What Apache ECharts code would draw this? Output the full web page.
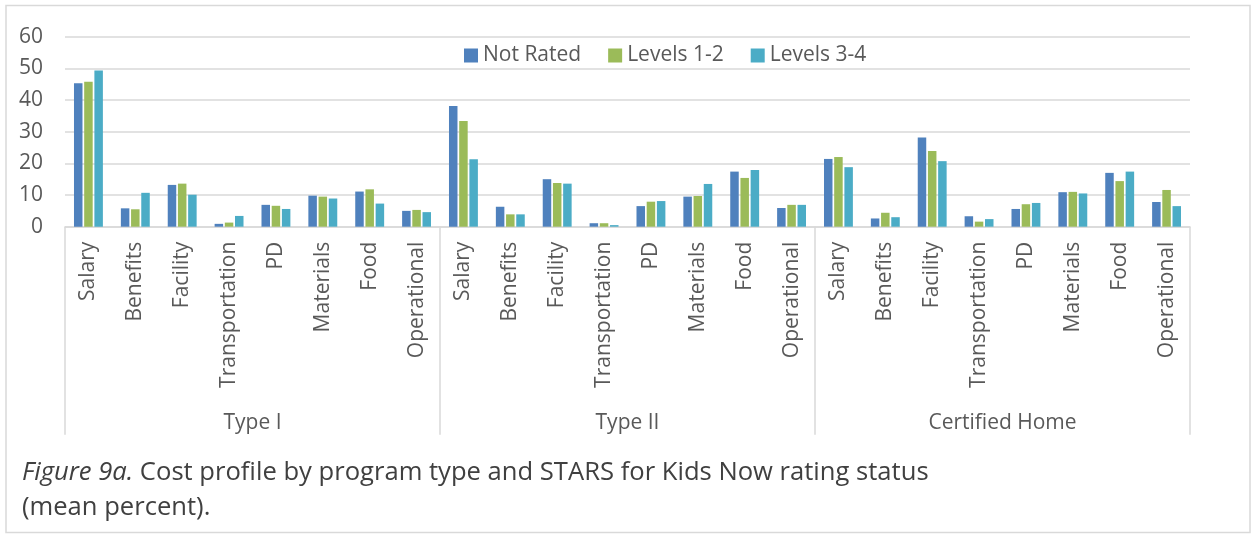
<!DOCTYPE html>
<html>
<head>
<meta charset="utf-8">
<script src="https://cdn.jsdelivr.net/npm/echarts@6/dist/echarts.min.js"></script>
<style>
  html, body { margin: 0; padding: 0; background: #fff; }
  #chart { width: 1252px; height: 534px; }
</style>
</head>
<body>
<div id="chart"></div>
<script>
// cost categories, repeated once per program type
const costItems = ["Salary", "Benefits", "Facility", "Transportation", "PD", "Materials", "Food", "Operational"];
const programTypes = ["Type I", "Type II", "Certified Home"];
const yTicks = [0, 10, 20, 30, 40, 50, 60];

// mean percent (Type I, Type II, Certified Home)
const notRated = [45.3, 5.8, 13.2, 0.9, 6.9, 9.8, 11.1, 5.0,
                  38.1, 6.3, 15.0, 1.1, 6.5, 9.5, 17.4, 5.9,
                  21.4, 2.6, 28.2, 3.3, 5.6, 10.9, 17.0, 7.8];
const levels12 = [45.8, 5.5, 13.6, 1.3, 6.6, 9.5, 11.8, 5.3,
                  33.4, 3.9, 13.8, 1.1, 7.9, 9.7, 15.4, 6.9,
                  22.0, 4.4, 23.9, 1.6, 7.1, 11.0, 14.4, 11.6];
const levels34 = [49.3, 10.7, 10.1, 3.4, 5.6, 8.9, 7.3, 4.6,
                  21.3, 3.9, 13.6, 0.5, 8.1, 13.5, 17.9, 6.9,
                  18.8, 3.0, 20.7, 2.4, 7.5, 10.5, 17.4, 6.5];

let categories = [];
programTypes.forEach(function () {
  costItems.forEach(function (c) { categories.push(c); });
});

let myChart = echarts.init(document.getElementById("chart"));
const font = "'Open Sans', 'DejaVu Sans', sans-serif";
const grey = "#595959";

let option = {
  animation: false,
  textStyle: { fontFamily: font },
  color: ["#4f81bd", "#9bbb59", "#4bacc6"],
  title: {
    left: 17,
    top: 450,
    text: "{i|Figure 9a.} Cost profile by program type and STARS for Kids Now rating status\n(mean percent).",
    textStyle: {
      fontFamily: font,
      fontSize: 25.6,
      fontWeight: "normal",
      color: "#404040",
      lineHeight: 35,
      rich: {
        i: { fontFamily: font, fontSize: 25.6, fontStyle: "italic", color: "#404040", lineHeight: 35 }
      }
    }
  },
  legend: {
    top: 40,
    left: 459,
    itemWidth: 14,
    itemHeight: 14,
    itemGap: 27,
    icon: "rect",
    textStyle: { fontFamily: font, fontSize: 21, color: grey },
    data: ["Not Rated", "Levels 1-2", "Levels 3-4"]
  },
  grid: { left: 65, right: 62, top: 36.7, bottom: 307.3 },
  xAxis: [
    {
      type: "category",
      data: categories,
      axisLine: { lineStyle: { color: "#d9d9d9", width: 1.5 } },
      axisTick: { show: false },
      axisLabel: {
        interval: 0,
        rotate: 90,
        margin: 15,
        fontFamily: font,
        fontSize: 21,
        color: grey
      }
    },
    {
      type: "category",
      data: programTypes,
      position: "bottom",
      axisLine: { show: false },
      axisTick: { show: true, length: 208, lineStyle: { color: "#d9d9d9", width: 1.5 } },
      axisLabel: { margin: 186, fontFamily: font, fontSize: 21, color: grey }
    }
  ],
  yAxis: {
    type: "value",
    min: yTicks[0],
    max: yTicks[yTicks.length - 1],
    interval: 10,
    axisLine: { show: false },
    axisTick: { show: false },
    axisLabel: { margin: 22, fontFamily: font, fontSize: 21, color: grey },
    splitLine: { lineStyle: { color: "#d9d9d9", width: 1.5 } }
  },
  graphic: [
    {
      type: "rect",
      shape: { x: 6, y: 5.5, width: 1244, height: 527 },
      style: { fill: "none", stroke: "#d9d9d9", lineWidth: 1.5 },
      silent: true
    }
  ],
  series: [
    { name: "Not Rated", type: "bar", xAxisIndex: 0, data: notRated, barWidth: 8.5, barGap: "20%" },
    { name: "Levels 1-2", type: "bar", xAxisIndex: 0, data: levels12, barWidth: 8.5, barGap: "20%" },
    { name: "Levels 3-4", type: "bar", xAxisIndex: 0, data: levels34, barWidth: 8.5, barGap: "20%" }
  ]
};

option && myChart.setOption(option);
</script>
</body>
</html>
